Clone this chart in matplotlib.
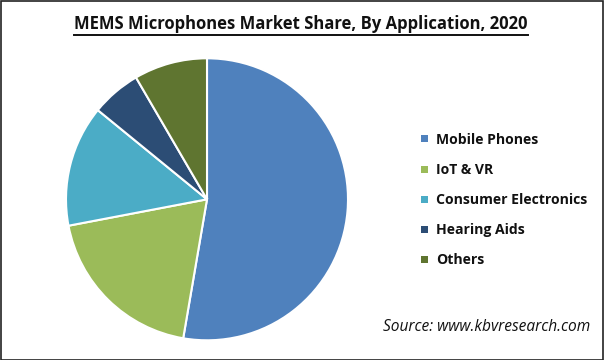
import matplotlib
matplotlib.use("Agg")
import matplotlib.pyplot as plt
from matplotlib.patches import Rectangle
from matplotlib.lines import Line2D

categories = ["Mobile Phones", "IoT & VR", "Consumer Electronics", "Hearing Aids", "Others"]
shares = [52.7, 19.3, 13.9, 5.7, 8.4]
colors = ["#4F81BD", "#9BBB59", "#4BACC6", "#2C4D75", "#5F7530"]
title = "MEMS Microphones Market Share, By Application, 2020"
source = "Source: www.kbvresearch.com"

W, H = 604, 360
fig = plt.figure(figsize=(W/100, H/100), dpi=100)
fig.patch.set_facecolor("white")
plt.rcParams['font.family'] = ['Open Sans', 'DejaVu Sans']

# pie axes: center (207,199), radius 141
cx, cy, r = 207, 199.3, 141
ax = fig.add_axes([(cx - r)/W, (H - cy - r)/H, 2*r/W, 2*r/H])
ax.pie(shares, colors=colors, startangle=90, counterclock=False,
       wedgeprops=dict(edgecolor="white", linewidth=1.5))
ax.set_xlim(-1, 1); ax.set_ylim(-1, 1)
ax.set_aspect("auto")
ax.axis("off")

# title with underline
t = fig.text(301/W, 1 - 24/H, title, ha="center", va="center",
             fontsize=12.0, fontweight="bold", color="#111111")
fig.canvas.draw()
bb = t.get_window_extent(renderer=fig.canvas.get_renderer())
uy = (H - 34.5) / H
fig.add_artist(Line2D([bb.x0/W, bb.x1/W], [uy, uy], color="#111111", lw=1.4,
                      transform=fig.transFigure))

# legend
ys = [139, 169, 199, 229, 259]
for name, col, y in zip(categories, colors, ys):
    fig.add_artist(Rectangle((421/W, 1 - (y + 3.5)/H), 7/W, 7/H,
                             facecolor=col, edgecolor="none", transform=fig.transFigure))
    fig.text(436/W, 1 - (y + 1.5)/H, name, ha="left", va="center", fontsize=10.1,
             fontweight="bold", color="#111111")

fig.text(590/W, 1 - 327/H, source, ha="right", va="center", fontsize=11.2,
         style="italic", color="#111111")

# border
fig.add_artist(Rectangle((0.5/W, 0.5/H), (W-1.5)/W, (H-1.5)/H, fill=False,
                         edgecolor="#222222", lw=1.2, transform=fig.transFigure))

fig.savefig("out.png", dpi=100)
